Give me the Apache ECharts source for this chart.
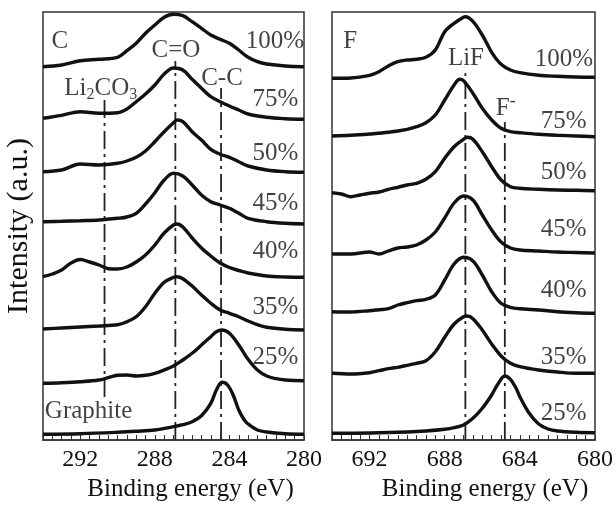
<!DOCTYPE html>
<html>
<head>
<meta charset="utf-8">
<script src="https://cdn.jsdelivr.net/npm/echarts@6/dist/echarts.min.js"></script>
<style>html,body{margin:0;padding:0;background:#fff;}#chart{width:616px;height:509px;}</style>
</head>
<body>
<div id="chart"></div>
<script>
// ---------- C 1s panel (binding energy eV, stacked intensity a.u.) ----------
const cGraphite = [[294,5.7],[292,6.3],[290,7.7],[289,8.7],[288,10],[287,13.3],[286.5,15.3],[286,18.3],[285.5,24.3],[285,36.7],[284.7,50],[284.4,57.7],[284.1,55],[283.8,45],[283.5,30],[283.2,20],[283,16],[282.5,10],[282,8],[281,6.3],[280,5.7]];
const c25 = [[294,56.7],[293,57.3],[292,58.3],[291,60],[290.5,62.3],[290,64.7],[289.5,65],[289,64],[288.5,64.7],[288,66.7],[287.5,70],[287,74],[286.5,80],[286,86.7],[285.5,95],[285,103.3],[284.7,108.3],[284.4,110],[284,106.7],[283.5,95],[283,80.7],[282.5,70],[282,64],[281.5,61.3],[281,60],[280,59.3]];
const c35 = [[294,111],[293,112],[292,113],[291,114],[290,115.3],[289.5,118.3],[289,123.3],[288.5,133.3],[288,146.7],[287.5,157.7],[287,162.7],[286.8,163.3],[286.5,161.3],[286,154],[285.5,145],[285,136.7],[284.5,130],[284,126.7],[283.5,123.3],[283,119],[282.5,115.3],[282,112.7],[281,110.7],[280,110]];
const c40 = [[294,163.3],[293.5,166],[293,170],[292.5,177],[292,180.5],[291.5,178],[291,175],[290.5,171.3],[290,171],[289.5,173],[289,178],[288.5,185],[288,195],[287.5,207],[287,215],[286.8,216],[286.5,213],[286,202],[285.5,192],[285,184],[284.5,177],[284,172.5],[283.5,169.5],[283,167],[282,164],[281,163],[280,162.7]];
const c45 = [[294,218.3],[293,218.7],[292,219.3],[291,220],[290,221.7],[289.5,223],[289,226.7],[288.5,236],[288,247.3],[287.5,260],[287,266.7],[286.5,264],[286,255],[285.5,245],[285,238.3],[284.5,235],[284,231.7],[283.5,226.7],[283,221.7],[282,218.3],[281,216.7],[280,216]];
const c50 = [[294,268.3],[293,270],[292,276],[291,275],[290,276.7],[289.5,279],[289,282.7],[288.5,289],[288,298.3],[287.5,308.3],[287,317.3],[286.8,320],[286.5,318.3],[286,308.3],[285.5,300],[285,290.7],[284.5,285.7],[284,282.7],[283.5,278.3],[283,274],[282,270],[281,268.3],[280,267.7]];
const c75 = [[294,321.7],[293,324.7],[292,328.3],[291,326.7],[290,327.3],[289.5,331],[289,338.3],[288.5,346],[288,355],[287.5,366],[287,372],[286.5,370],[286,360.7],[285.5,351.7],[285,343.3],[284.5,338.3],[284,334],[283.5,330],[283,326],[282,322.7],[281,321.3],[280,320.7]];
const c100 = [[294,373.3],[293,375],[292,379.3],[291,380.7],[290,382.7],[289.5,389.3],[289,396.7],[288.5,406.7],[288,415],[287.5,422.7],[287,425.7],[286.5,424.3],[286,418.3],[285.5,411.7],[285,405],[284.5,400.7],[284,396.7],[283.5,390],[283,382.7],[282.5,378.3],[282,376],[281,374],[280,373.3]];

// ---------- F 1s panel ----------
const f25 = [[694,6.7],[692,7],[690,8],[689,9],[688,10.7],[687.5,12.3],[687,15],[686.5,21.7],[686,31.7],[685.5,45],[685.2,55],[684.8,64],[684.5,60.7],[684.2,51.7],[684,43.3],[683.5,26.7],[683,16],[682.5,11],[682,9],[681,7.7],[680,7.3]];
const f35 = [[694,66.7],[693,66],[692,67.3],[691.5,69.3],[691,71.3],[690.5,72.7],[690,74.7],[689.5,76.7],[689,79.3],[688.5,88.3],[688,102.7],[687.5,116],[687,123.3],[686.8,124],[686.5,121.3],[686,110],[685.5,96],[685,84],[684.5,76.7],[684,73.3],[683,70],[682,68],[681,66.7],[680,66.7]];
const f40 = [[694,128.3],[693,128],[692,129.3],[691.5,130.3],[691,131.3],[690.5,135],[690,137.3],[689.5,139.3],[689,140.7],[688.5,145],[688,160],[687.5,176],[687,182.7],[686.5,179],[686,165],[685.5,148.3],[685,136.7],[684.5,132.7],[684,131.3],[683,130],[682,128.3],[681,127.3],[680,126.7]];
const f45 = [[694,186],[693,186],[692,188],[691.5,186],[691,189],[690.5,192],[690,193],[689.5,195],[689,200],[688.5,208],[688,222],[687.5,237],[687,244],[686.5,240],[686,225],[685.5,210],[685,198],[684.5,192],[684,190],[683,189],[682,188],[681,187.5],[680,187]];
const f50 = [[694,247.3],[693.5,246],[693,243.3],[692.5,245],[692,246.7],[691.5,248],[691,250.7],[690.5,252.7],[690,255],[689.5,256.7],[689,260.7],[688.5,268.3],[688,281.7],[687.5,293.3],[687,300.7],[686.8,302.7],[686.5,300.7],[686,288.3],[685.5,273.3],[685,260],[684.5,253.3],[684,251.7],[683,250.7],[682,250],[681,249.7],[680,249.3]];
const f75 = [[694,304],[693,304.7],[692,306],[691,307.7],[690,310.7],[689.5,313.3],[689,317.3],[688.5,325],[688,340],[687.5,355],[687.2,360.7],[687,359.3],[686.5,346.7],[686,331.7],[685.5,320],[685,311.7],[684.5,308.3],[684,307.3],[683,305.7],[682,304.7],[681,304],[680,303.3]];
const f100 = [[694,361.7],[693,362],[692,364.7],[691.5,368.3],[691,374],[690.5,378.3],[690,380],[689.5,380.7],[689,382.7],[688.5,390],[688,408.3],[687.5,416.7],[687,422.7],[686.9,423.3],[686.5,418.7],[686,405],[685.5,387.7],[685,375.7],[684.5,370],[684,367.3],[683,364.7],[682,363.7],[681,363],[680,362.7]];

// ---------- reference lines ----------
const refEnergyC = [290.7, 286.9, 284.45];
const refTopC = [342, 379, 352];
const refBottomC = [43, 0, 0];
const refEnergyF = [686.9, 684.8];
const refTopF = [372, 318];
const refBottomF = [0, 0];

// ---------- text labels ----------
const pctLabels = ['100%', '75%', '50%', '45%', '40%', '35%', '25%'];
const pctEnergyC = [280.0, 280.3, 280.3, 280.3, 280.3, 280.3, 280.3];
const pctLevelC = [399, 341, 287, 237, 189, 133, 83];
const pctEnergyF = [680.1, 680.45, 680.45, 680.45, 680.45, 680.45, 680.45];
const pctLevelF = [381, 319, 268, 211, 150, 83, 27];

const xTicksC = [280, 284, 288, 292];
const xTicksF = [680, 684, 688, 692];

const curvesC = [c100, c75, c50, c45, c40, c35, c25, cGraphite];
const curvesF = [f100, f75, f50, f45, f40, f35, f25];

const FONT = '"Liberation Serif", "Times New Roman", Times, serif';
const INK = '#111';

const series = [];
function addCurves(list, idx) {
  list.forEach(d => series.push({
    type: 'line', xAxisIndex: idx, yAxisIndex: idx, data: d,
    showSymbol: false, smooth: 0.35, silent: true,
    lineStyle: { color: INK, width: 3.4 }
  }));
}
function addRefs(es, tops, bots, idx) {
  es.forEach((e, i) => series.push({
    type: 'line', xAxisIndex: idx, yAxisIndex: idx,
    data: [[e, bots[i]], [e, tops[i]]], showSymbol: false, silent: true,
    lineStyle: { color: '#222', width: 1.8, type: [18, 5, 3, 5] }
  }));
}
addRefs(refEnergyC, refTopC, refBottomC, 0);
addRefs(refEnergyF, refTopF, refBottomF, 1);
addCurves(curvesC, 0);
addCurves(curvesF, 1);

const baseLabel = { show: true, fontFamily: FONT, fontSize: 25, color: INK, position: [0, 0], verticalAlign: 'middle' };
function textItem(e, v, text, align, extra) {
  return { value: [e, v], label: Object.assign({}, baseLabel, { formatter: text, align: align }, extra || {}) };
}
const annC = pctLabels.map((t, i) => textItem(pctEnergyC[i], pctLevelC[i], t, 'right'));
annC.push(textItem(293.55, 399, 'C', 'left'));
annC.push(textItem(293.9, 29, 'Graphite', 'left'));
annC.push(textItem(286.87, 390, 'C=O', 'center'));
annC.push(textItem(284.4, 362, 'C-C', 'center'));
annC.push(textItem(290.9, 352, '{a|Li}{b|2}{a|CO}{b|3}', 'center', {
  rich: { a: { fontFamily: FONT, fontSize: 25, color: INK, lineHeight: 28 },
          b: { fontFamily: FONT, fontSize: 16, color: INK, lineHeight: 28, padding: [14, 0, 0, 0] } }
}));
const annF = pctLabels.map((t, i) => textItem(pctEnergyF[i], pctLevelF[i], t, 'right'));
annF.push(textItem(693.4, 399, 'F', 'left'));
annF.push(textItem(686.87, 382, 'LiF', 'center'));
annF.push(textItem(684.75, 332, '{a|F}{s|-}', 'center', {
  rich: { a: { fontFamily: FONT, fontSize: 25, color: INK, lineHeight: 28 },
          s: { fontFamily: FONT, fontSize: 18, color: INK, lineHeight: 28, padding: [0, 0, 14, 0] } }
}));
series.push({ type: 'scatter', xAxisIndex: 0, yAxisIndex: 0, symbolSize: 0, silent: true, data: annC, z: 5 });
series.push({ type: 'scatter', xAxisIndex: 1, yAxisIndex: 1, symbolSize: 0, silent: true, data: annF, z: 5 });

function xAxisFor(idx, min, max, ticks, padLeft) {
  return {
    type: 'value', gridIndex: idx, min: min, max: max, interval: 2, inverse: true,
    name: 'Binding energy (eV)', nameLocation: 'middle', nameGap: 34,
    nameTextStyle: { fontFamily: FONT, fontSize: 25, color: INK, padding: [0, 0, 0, padLeft] },
    axisLine: { show: true, lineStyle: { color: '#333', width: 1.5 } },
    axisTick: { show: true, inside: true, length: 5, lineStyle: { color: '#333', width: 1 } },
    minorTick: { show: true, splitNumber: 4, length: 5, lineStyle: { color: '#333', width: 1 } },
    splitLine: { show: false },
    axisLabel: {
      margin: 8, fontFamily: FONT, fontSize: 24, color: INK,
      formatter: v => (ticks.indexOf(v) >= 0 ? String(v) : '')
    }
  };
}
function yAxisFor(idx, name) {
  return {
    type: 'value', gridIndex: idx, min: 0, max: 428,
    name: name, nameLocation: 'middle', nameGap: 9,
    nameTextStyle: { fontFamily: FONT, fontSize: 30, color: INK },
    axisLine: { show: false }, axisTick: { show: false }, axisLabel: { show: false },
    splitLine: { show: false }
  };
}

const chart = echarts.init(document.getElementById('chart'), null, { renderer: 'canvas' });
chart.setOption({
  animation: false,
  backgroundColor: '#fff',
  grid: [
    { left: 43, top: 12, width: 261, height: 428, show: true, borderColor: '#333', borderWidth: 1.5, backgroundColor: 'transparent' },
    { left: 332, top: 12, width: 263, height: 428, show: true, borderColor: '#333', borderWidth: 1.5, backgroundColor: 'transparent' }
  ],
  xAxis: [xAxisFor(0, 280, 294, xTicksC, 34), xAxisFor(1, 680, 694, xTicksF, 43)],
  yAxis: [yAxisFor(0, 'Intensity (a.u.)'), yAxisFor(1, '')],
  series: series
});
</script>
</body>
</html>
